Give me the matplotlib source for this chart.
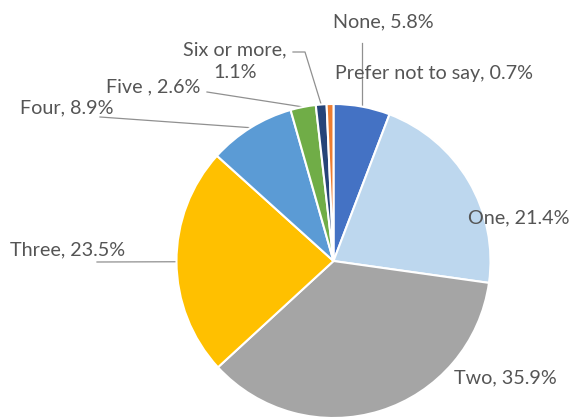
import matplotlib
matplotlib.use("Agg")
import numpy as np
import matplotlib.pyplot as plt

# Survey shares by category (percent), drawn clockwise from 12 o'clock
categories = ["None", "One", "Two", "Three", "Four", "Five ", "Six or more", "Prefer not to say"]
shares = [5.8, 21.4, 35.9, 23.5, 8.9, 2.6, 1.1, 0.7]
colors = ["#4472C4", "#BDD7EE", "#A5A5A5", "#FFC000", "#5B9BD5", "#70AD47", "#264478", "#ED7D31"]

W, H = 576, 417
plt.rcParams["font.family"] = ["Lato", "DejaVu Sans"]

fig = plt.figure(figsize=(W / 100, H / 100), dpi=100)
ax = fig.add_axes([0, 0, 1, 1])

# work in pixel-like units with y measured from the top
def Y(y):
    return H - y

cx, cy, r = 333.5, 261, 157
wedges, _ = ax.pie(shares, colors=colors, startangle=90, counterclock=False,
                   center=(cx, Y(cy)), radius=r, frame=True,
                   wedgeprops=dict(edgecolor="white", linewidth=1.5))
ax.set_xlim(0, W)
ax.set_ylim(0, H)
ax.set_aspect("equal")
ax.axis("off")

text_color = "#555555"
line_color = "#909090"
fs = 14.2

# label placement: (x, y, ha), and leader points leading to the wedge edge
layout = {
    "None": ((333, 22, "left"), "vertical"),
    "One": ((468, 218, "left"), None),
    "Two": ((454, 378, "left"), None),
    "Three": ((10, 250, "left"), [(97, 262)]),
    "Four": ((20, 108, "left"), [(100, 117)]),
    "Five ": ((106, 87, "left"), [(207, 92)]),
    "Six or more": ((235, 61, "center"), [(293, 52), (305, 52)]),
    "Prefer not to say": ((335, 73, "left"), None),
}

for w, cat, val in zip(wedges, categories, shares):
    (tx, ty, ha), lead = layout[cat]
    if cat == "Six or more":
        label = f"{cat},\n{val}%"
    else:
        label = f"{cat}, {val}%"
    ax.text(tx, Y(ty), label, ha=ha, va="center", fontsize=fs,
            color=text_color, linespacing=1.4)
    mid = np.deg2rad((w.theta1 + w.theta2) / 2)
    ex = cx + r * np.cos(mid)
    ey = Y(cy) + r * np.sin(mid)
    if lead == "vertical":
        ax.plot([ex, ex], [Y(43), ey], color=line_color, lw=0.9, zorder=0)
    elif lead:
        xs = [p[0] for p in lead] + [ex]
        ys = [Y(p[1]) for p in lead] + [ey]
        ax.plot(xs, ys, color=line_color, lw=0.9, zorder=0)

fig.savefig("out.png", dpi=100)
